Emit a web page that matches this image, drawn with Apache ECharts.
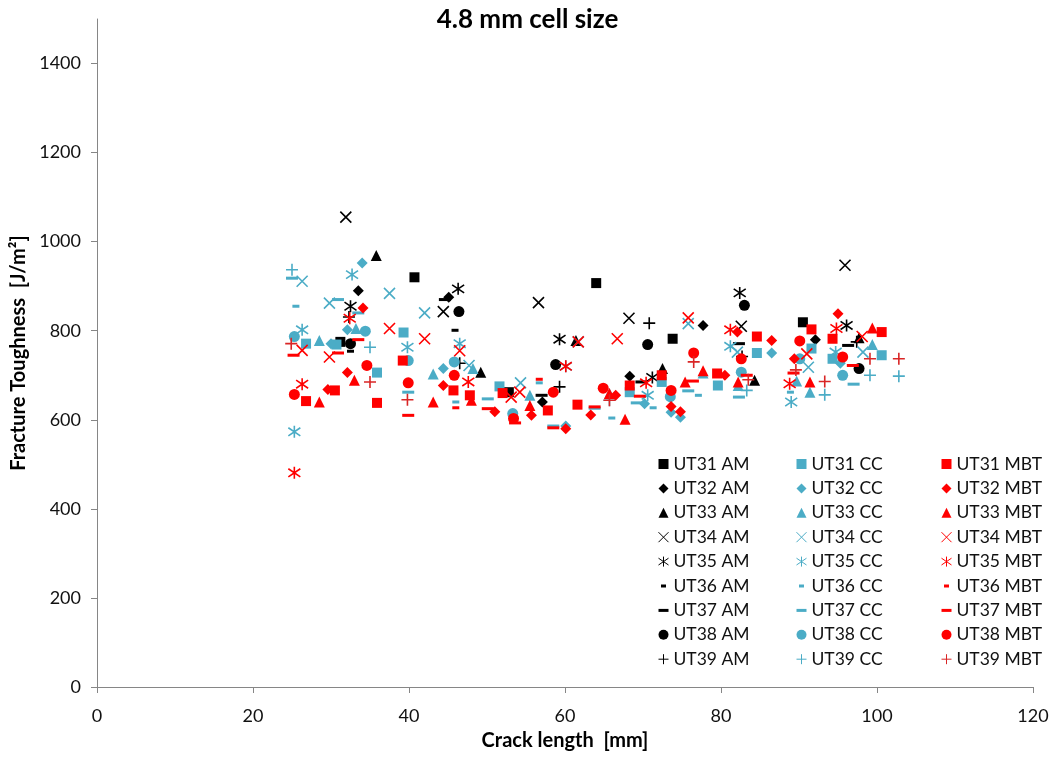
<!DOCTYPE html>
<html>
<head>
<meta charset="utf-8">
<script src="https://cdn.jsdelivr.net/npm/echarts@6/dist/echarts.min.js"></script>
<style>
  html, body { margin: 0; padding: 0; background: #fff; }
  #main { width: 1055px; height: 757px; }
</style>
</head>
<body>
<div id="main"></div>
<script>
// crack length [mm], fracture toughness [J/m2]
const ut31_am = [[31.2,775],[40.7,920],[52.8,662],[64.0,907],[73.8,782],[90.5,819]];
const ut32_am = [[33.5,890],[45.1,875],[57.1,640],[68.3,698],[77.7,812],[92.1,780]];
const ut33_am = [[35.8,969],[49.2,707],[61.4,778],[72.5,715],[84.3,689],[97.7,784]];
const ut34_am = [[31.9,1055],[44.4,843],[56.6,863],[68.2,828],[82.6,810],[95.9,947]];
const ut35_am = [[32.5,855],[46.3,894],[59.3,781],[71.2,695],[82.4,885],[96.1,812]];
const ut36_am = [[32.5,754],[45.9,801]];
const ut37_am = [[44.6,870],[57.0,655],[69.8,685],[82.3,771],[96.3,767]];
const ut38_am = [[32.5,771],[46.4,843],[58.8,724],[70.6,769],[83.0,857],[97.7,715]];
const ut39_am = [[32.3,831],[46.5,727],[59.3,674],[70.8,817],[82.7,742],[97.4,775]];

const ut31_cc = [[26.8,771],[30.7,769],[35.9,706],[39.3,796],[51.6,675],[68.3,662],[72.4,685],[79.6,677],[84.6,750],[91.6,760],[94.3,737],[100.6,745]];
const ut32_cc = [[30.0,771],[32.1,802],[34.0,952],[44.4,715],[60.1,586],[70.2,636],[73.6,617],[74.8,606],[86.5,750],[95.3,727]];
const ut33_cc = [[28.5,778],[33.2,805],[43.1,703],[48.2,715],[55.5,655],[65.7,659],[77.7,705],[82.2,677],[89.7,687],[91.4,662],[99.4,769]];
const ut34_cc = [[26.3,911],[29.8,862],[37.5,884],[42.0,840],[47.7,722],[54.3,683],[61.7,775],[75.8,816],[82.1,752],[91.2,718],[98.2,752]];
const ut35_cc = [[25.3,573],[26.3,802],[32.7,926],[39.8,763],[46.5,771],[60.1,720],[70.6,655],[81.2,765],[89.0,640],[94.7,752]];
const ut36_cc = [[25.5,855],[46.0,640],[56.7,683],[66.0,604],[71.3,627],[77.1,655],[88.9,662]];
const ut37_cc = [[25.0,918],[30.9,870],[33.5,840],[39.9,662],[50.1,647],[58.5,586],[63.8,626],[69.2,638],[75.8,665],[82.3,651],[97.0,680]];
const ut38_cc = [[25.3,787],[34.4,799],[39.9,733],[45.8,730],[53.3,614],[73.5,652],[82.6,707],[90.1,737],[95.6,700]];
const ut39_cc = [[25.0,937],[35.0,763],[65.7,644],[83.3,666],[93.3,656],[99.1,700],[102.8,698]];

const ut31_mbt = [[26.8,642],[30.5,666],[35.9,638],[39.2,733],[45.7,666],[47.8,655],[52.0,660],[57.8,621],[61.6,634],[68.3,677],[72.4,700],[79.5,704],[84.6,787],[91.6,803],[94.3,782],[100.6,797]];
const ut32_mbt = [[29.6,668],[32.1,706],[34.1,851],[44.4,677],[51.0,618],[55.7,610],[60.1,580],[63.3,611],[66.5,655],[73.6,630],[74.8,618],[80.5,700],[82.1,797],[86.5,778],[89.4,737],[95.0,838]];
const ut33_mbt = [[28.5,640],[33.0,689],[43.1,640],[48.0,644],[55.5,632],[65.7,659],[67.7,601],[75.4,685],[77.7,710],[82.2,685],[91.4,685],[99.4,806]];
const ut34_mbt = [[26.3,756],[29.8,741],[37.5,805],[42.0,782],[46.5,755],[53.1,651],[54.2,662],[61.7,775],[66.7,782],[75.8,829],[91.0,748],[98.1,787]];
const ut35_mbt = [[25.3,481],[26.3,680],[32.4,828],[47.6,685],[60.1,720],[70.4,683],[81.2,802],[88.8,681],[94.8,805]];
const ut36_mbt = [[46.0,627],[56.7,691]];
const ut37_mbt = [[25.2,745],[30.9,750],[33.5,780],[39.9,610],[50.1,625],[53.6,593],[58.5,582],[63.8,629],[69.6,653],[76.4,687],[83.3,700],[89.3,705],[96.9,722]];
const ut38_mbt = [[25.3,657],[34.6,722],[39.9,683],[45.8,700],[53.4,603],[58.5,662],[64.9,671],[73.6,666],[76.5,750],[82.6,737],[90.1,777],[95.6,741]];
const ut39_mbt = [[24.9,771],[35.0,685],[39.8,645],[65.7,644],[76.5,730],[83.5,690],[89.6,712],[93.3,686],[99.1,737],[102.8,737]];

const xTicks = [0, 20, 40, 60, 80, 100, 120];
const yTicks = [0, 200, 400, 600, 800, 1000, 1200, 1400];

const specimens = ['UT31', 'UT32', 'UT33', 'UT34', 'UT35', 'UT36', 'UT37', 'UT38', 'UT39'];
const methods = ['AM', 'CC', 'MBT'];
const dataSets = {
  AM: [ut31_am, ut32_am, ut33_am, ut34_am, ut35_am, ut36_am, ut37_am, ut38_am, ut39_am],
  CC: [ut31_cc, ut32_cc, ut33_cc, ut34_cc, ut35_cc, ut36_cc, ut37_cc, ut38_cc, ut39_cc],
  MBT: [ut31_mbt, ut32_mbt, ut33_mbt, ut34_mbt, ut35_mbt, ut36_mbt, ut37_mbt, ut38_mbt, ut39_mbt]
};
const colors = { AM: '#000000', CC: '#4bacc6', MBT: '#ff0000' };

// marker per specimen (excel-ish look); legendIcon pads the small dashes
const markers = [
  { symbol: 'rect', size: 10 },
  { symbol: 'diamond', size: 11 },
  { symbol: 'triangle', size: 11 },
  { symbol: 'path://M0,0L10,10M10,0L0,10', size: 11, stroke: true },
  { symbol: 'path://M0,1.6L10,8.4M10,1.6L0,8.4M5,0L5,10', size: 12, stroke: true },
  { symbol: 'path://M0,0L7,0L7,3L0,3Z', size: [7, 3], legendIcon: 'path://M0,0M10,10M2.5,3.5L7.5,3.5L7.5,6.5L2.5,6.5Z' },
  { symbol: 'path://M0,0L12,0L12,3L0,3Z', size: [12, 3], legendIcon: 'path://M0,0M10,10M0,3.5L10,3.5L10,6.5L0,6.5Z' },
  { symbol: 'circle', size: 11 },
  { symbol: 'path://M5,0L5,10M0,5L10,5', size: 12, stroke: true }
];

const series = [];
const legends = [];
const legendLeft = [653, 791, 936];
methods.forEach((m, mi) => {
  const names = [];
  specimens.forEach((s, si) => {
    const mk = markers[si];
    const c = (m === 'MBT' && si === 8) ? '#d92626' : colors[m];
    const name = s + ' ' + m;
    const item = { name: name };
    if (mk.legendIcon) item.icon = mk.legendIcon;
    if (mk.stroke) item.itemStyle = { borderWidth: 1 };
    names.push(item);
    series.push({
      name: name,
      type: 'scatter',
      data: dataSets[m][si],
      symbol: mk.symbol,
      symbolSize: mk.size,
      itemStyle: mk.stroke
        ? { color: 'rgba(0,0,0,0)', borderColor: c, borderWidth: 1.6, opacity: 1 }
        : { color: c, borderWidth: 0, opacity: 1 },
      emphasis: { disabled: true },
      z: 2 + mi
    });
  });
  legends.push({
    orient: 'vertical',
    left: legendLeft[mi],
    top: 449,
    data: names,
    itemWidth: 10,
    itemHeight: 10,
    itemGap: 4.4,
    selectedMode: false,
    textStyle: { fontFamily: 'Lato', fontSize: 17.5, color: '#111', lineHeight: 20 }
  });
});

const chart = echarts.init(document.getElementById('main'), null, { renderer: 'canvas' });
chart.setOption({
  backgroundColor: '#fff',
  animation: false,
  title: {
    text: '4.8 mm cell size',
    left: 'center',
    top: 2,
    textStyle: { fontFamily: 'Lato', fontSize: 26, fontWeight: 'bold', color: '#000' }
  },
  legend: legends,
  grid: { left: 97, right: 22, top: 19, bottom: 70 },
  xAxis: {
    type: 'value',
    min: 0,
    max: 120,
    interval: 20,
    name: 'Crack length  [mm]',
    nameLocation: 'middle',
    nameGap: 44,
    nameTextStyle: { fontFamily: 'Lato', fontSize: 20, fontWeight: 'bold', color: '#000' },
    axisLine: { show: true, lineStyle: { color: '#868686', width: 1 } },
    axisTick: { show: true, length: 6, lineStyle: { color: '#868686' } },
    axisLabel: { fontFamily: 'Lato', fontSize: 18, color: '#111', margin: 20, customValues: xTicks },
    splitLine: { show: false }
  },
  yAxis: {
    type: 'value',
    min: 0,
    max: 1500,
    name: 'Fracture Toughness  [J/m²]',
    nameLocation: 'middle',
    nameGap: 66,
    nameTextStyle: { fontFamily: 'Lato', fontSize: 20, fontWeight: 'bold', color: '#000' },
    axisLine: { show: true, lineStyle: { color: '#868686', width: 1 } },
    axisTick: { show: true, length: 6, lineStyle: { color: '#868686' }, customValues: yTicks },
    axisLabel: {
      fontFamily: 'Lato', fontSize: 18, color: '#111', margin: 16,
      customValues: yTicks,
      formatter: (v) => String(v)
    },
    splitLine: { show: false }
  },
  series: series
});
</script>
</body>
</html>
